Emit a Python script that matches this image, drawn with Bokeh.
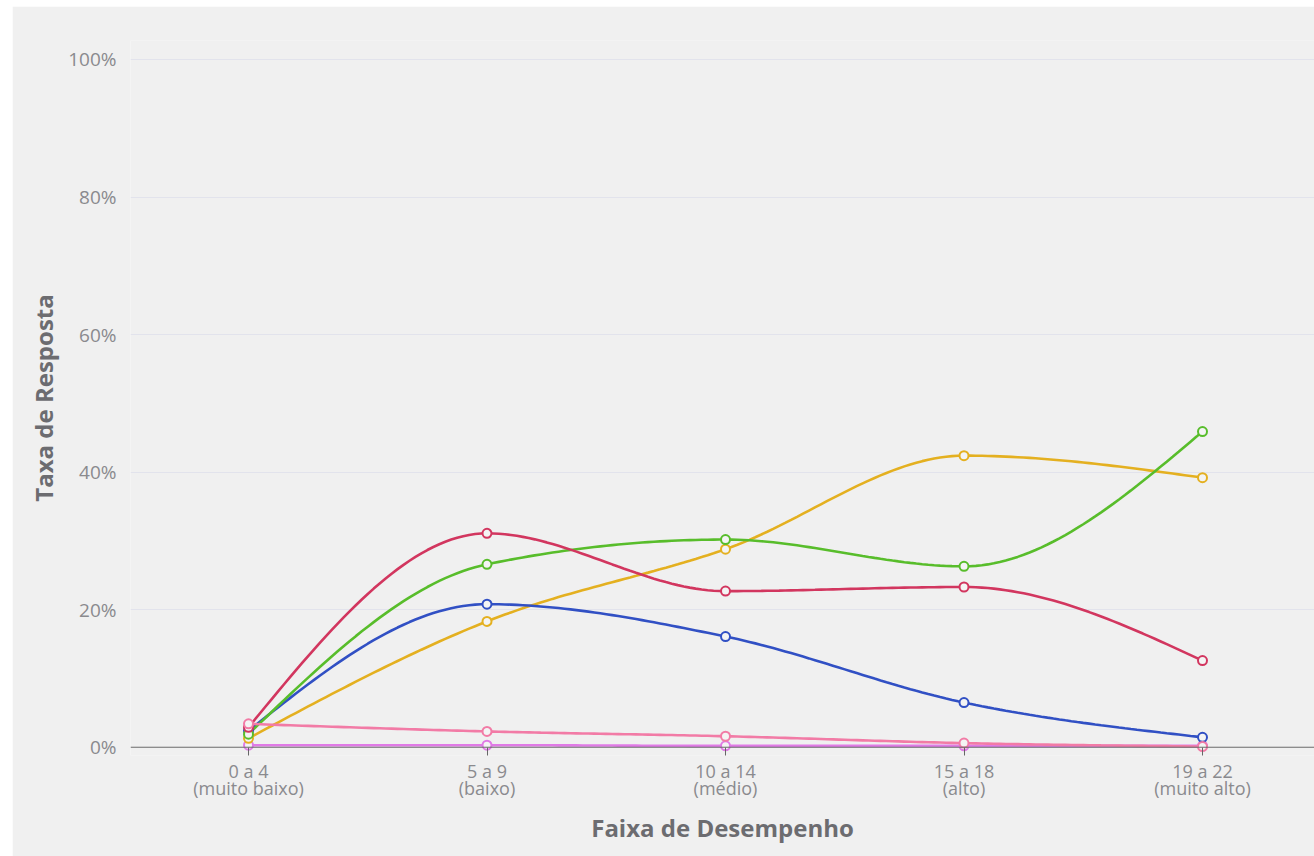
from bokeh.plotting import figure
from bokeh.models import FixedTicker, Span, ColumnDataSource
from bokeh.embed import file_html
from bokeh.resources import INLINE

# Performance bands (x axis)
categories = ["0 a 4\n(muito baixo)", "5 a 9\n(baixo)", "10 a 14\n(médio)",
              "15 a 18\n(alto)", "19 a 22\n(muito alto)"]

# Response rate per band (%)
serie_amarela = [1.3, 18.3, 28.8, 42.4, 39.2]
serie_azul = [2.4, 20.8, 16.1, 6.5, 1.45]
serie_verde = [1.9, 26.6, 30.2, 26.3, 45.9]
serie_vermelha = [2.9, 31.1, 22.7, 23.3, 12.6]
serie_magenta = [0.3, 0.3, 0.2, 0.2, 0.2]
serie_rosa = [3.4, 2.3, 1.6, 0.6, 0.1]

y_ticks = [0, 20, 40, 60, 80, 100]

series = [
    (serie_magenta, "#e07ae6"),
    (serie_amarela, "#e4b020"),
    (serie_azul, "#3150c4"),
    (serie_verde, "#58bd2b"),
    (serie_vermelha, "#d2365f"),
    (serie_rosa, "#f27ba6"),
]

BG = "#f0f0f0"
FONT = "Open Sans"


def _sign(v):
    return (v > 0) - (v < 0)


def monotone_x(xs, ys, steps=40):
    """Monotone cubic interpolation (same tangents as d3.curveMonotoneX)."""
    n = len(xs)
    t = [0.0] * n
    for i in range(1, n - 1):
        h0 = xs[i] - xs[i - 1]
        h1 = xs[i + 1] - xs[i]
        s0 = (ys[i] - ys[i - 1]) / h0
        s1 = (ys[i + 1] - ys[i]) / h1
        p = (s0 * h1 + s1 * h0) / (h0 + h1)
        t[i] = (_sign(s0) + _sign(s1)) * min(abs(s0), abs(s1), 0.5 * abs(p))
    h = xs[1] - xs[0]
    t[0] = (3 * (ys[1] - ys[0]) / h - t[1]) / 2
    h = xs[-1] - xs[-2]
    t[-1] = (3 * (ys[-1] - ys[-2]) / h - t[-2]) / 2
    out_x, out_y = [xs[0]], [ys[0]]
    for i in range(n - 1):
        x0, x1, y0, y1 = xs[i], xs[i + 1], ys[i], ys[i + 1]
        dx = (x1 - x0) / 3
        c1 = y0 + dx * t[i]
        c2 = y1 - dx * t[i + 1]
        for k in range(1, steps + 1):
            u = k / steps
            m = 1 - u
            out_x.append(x0 + (x1 - x0) * u)
            out_y.append(m ** 3 * y0 + 3 * m * m * u * c1 + 3 * m * u * u * c2 + u ** 3 * y1)
    return out_x, out_y


xs = list(range(len(categories)))

p = figure(
    width=1302, height=850,
    x_range=(-0.4948, 4.4696), y_range=(-1.2, 102.76),
    output_backend="svg", toolbar_location=None,
    background_fill_color=BG, border_fill_color=BG,
    min_border_left=118, min_border_right=0, min_border_top=34, min_border_bottom=101,
)
p.margin = (6, 0, 0, 12)
p.outline_line_color = None

# y axis
p.yaxis.ticker = FixedTicker(ticks=y_ticks)
p.yaxis.major_label_overrides = {v: f"{v}%" for v in y_ticks}
p.yaxis.axis_line_color = None
p.yaxis.major_tick_line_color = None
p.yaxis.minor_tick_line_color = None
p.yaxis.major_label_standoff = 8
p.yaxis.major_label_text_font = FONT
p.yaxis.major_label_text_font_size = "19px"
p.yaxis.major_label_text_color = "#8a8a8e"
p.yaxis.axis_label = "Taxa de Resposta"
p.yaxis.axis_label_text_font = FONT
p.yaxis.axis_label_text_font_size = "24px"
p.yaxis.axis_label_text_font_style = "bold"
p.yaxis.axis_label_text_color = "#6c6c70"
p.yaxis.axis_label_standoff = 5

# x axis
p.xaxis.ticker = FixedTicker(ticks=xs)
p.xaxis.major_label_overrides = {i: c for i, c in enumerate(categories)}
p.xaxis.axis_line_color = None
p.xaxis.major_tick_in = 8
p.xaxis.major_tick_out = 0
p.xaxis.major_tick_line_color = "#666666"
p.xaxis.minor_tick_line_color = None
p.xaxis.major_label_standoff = 3
p.xaxis.major_label_text_font = FONT
p.xaxis.major_label_text_font_size = "18px"
p.xaxis.major_label_text_color = "#8a8a8e"
p.xaxis.major_label_text_line_height = 0.72
p.xaxis.axis_label = "Faixa de Desempenho"
p.xaxis.axis_label_text_font = FONT
p.xaxis.axis_label_text_font_size = "24px"
p.xaxis.axis_label_text_font_style = "bold"
p.xaxis.axis_label_text_color = "#6c6c70"
p.xaxis.axis_label_standoff = 8

p.xgrid.grid_line_color = None
p.ygrid.ticker = FixedTicker(ticks=y_ticks[1:])
p.ygrid.grid_line_color = "#e2e3ec"
p.ygrid.grid_line_width = 1

# baseline at 0%
p.add_layout(Span(location=0, dimension="width", line_color="#6a6a6a", line_width=1))

for values, color in series:
    cx, cy = monotone_x(xs, values)
    p.line(cx, cy, line_color=color, line_width=2.6)

for values, color in series:
    src = ColumnDataSource(dict(x=xs, y=values))
    p.scatter("x", "y", source=src, size=9, marker="circle",
              fill_color="#f4f4f4", line_color=color, line_width=2)

open("out.html", "w").write(file_html(p, INLINE))
